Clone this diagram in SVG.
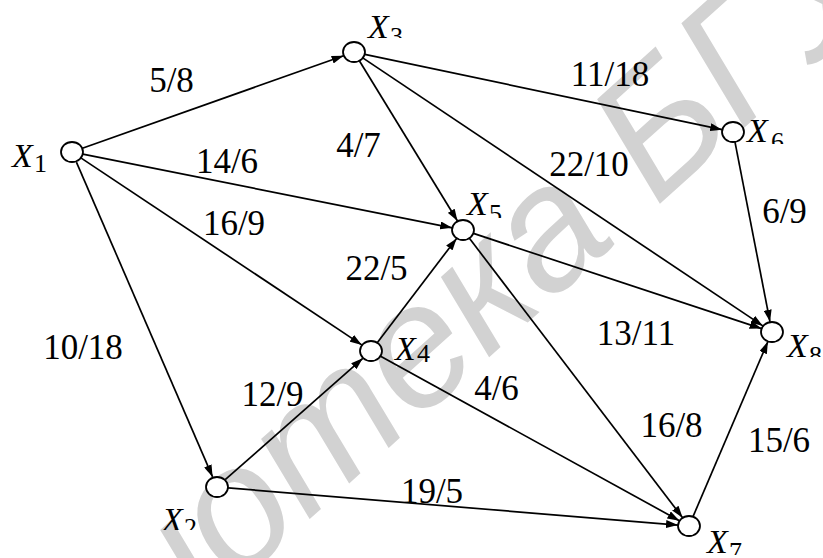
<svg xmlns="http://www.w3.org/2000/svg" width="823" height="558" viewBox="0 0 823 558">
<style>
.wm{font-family:"Liberation Sans",Arial,sans-serif;font-style:italic;font-size:174px;fill:#d2d2d2}
.e{stroke:#000;stroke-width:1.7;fill:none;marker-end:url(#ah)}
.n{fill:#fff;stroke:#000;stroke-width:1.8}
.t{font-family:"Liberation Serif","Times New Roman",serif;fill:#000}
.num{font-size:35px;text-anchor:middle}
.lbl{font-size:34px;font-style:italic}
.sub{font-style:normal;font-size:26px}
</style>
<defs>
<marker id="ah" markerWidth="12" markerHeight="8" refX="12" refY="4" orient="auto" markerUnits="userSpaceOnUse">
<path d="M0,0 L12,4 L0,8 z" fill="#000"/>
</marker>
<clipPath id="c3"><rect x="340" y="0" width="100" height="38"/></clipPath>
<clipPath id="c6"><rect x="720" y="100" width="103" height="44"/></clipPath>
<clipPath id="c5"><rect x="440" y="170" width="100" height="48"/></clipPath>
<clipPath id="c2"><rect x="140" y="490" width="100" height="40"/></clipPath>
<clipPath id="c7"><rect x="690" y="510" width="100" height="45"/></clipPath>
<clipPath id="c8"><rect x="770" y="320" width="53" height="37"/></clipPath>
</defs>
<rect width="823" height="558" fill="#fff"/>
<text class="wm" transform="translate(272,553) rotate(-42)" x="-548" y="0">Библиотека БГУИР</text>
<g id="connectors">
<line class="e" x1="82.4" y1="148.3" x2="343.6" y2="55.7"/>
<line class="e" x1="82.8" y1="154.2" x2="452.2" y2="227.8"/>
<line class="e" x1="81.2" y1="158.1" x2="361.8" y2="344.9"/>
<line class="e" x1="76.4" y1="162.1" x2="212.6" y2="476.9"/>
<line class="e" x1="364.8" y1="54.3" x2="722.2" y2="129.7"/>
<line class="e" x1="359.5" y1="61.0" x2="457.5" y2="221.0"/>
<line class="e" x1="363.1" y1="58.1" x2="762.9" y2="325.9"/>
<line class="e" x1="377.4" y1="342.6" x2="456.6" y2="238.4"/>
<line class="e" x1="225.2" y1="479.7" x2="362.8" y2="358.3"/>
<line class="e" x1="228" y1="487.9" x2="678" y2="525.1"/>
<line class="e" x1="380.6" y1="356.3" x2="679.4" y2="520.7"/>
<line class="e" x1="469.4" y1="238.3" x2="682.6" y2="517.7"/>
<line class="e" x1="473.4" y1="233.4" x2="761.6" y2="328.6"/>
<line class="e" x1="735" y1="142.2" x2="770" y2="321.8"/>
<line class="e" x1="693.1" y1="516.4" x2="767.9" y2="341.6"/>
</g>
<g id="edge-labels" class="t">
<text class="num" x="171.5" y="92">5/8</text>
<text class="num" x="227" y="173">14/6</text>
<text class="num" x="234" y="235">16/9</text>
<text class="num" x="358.5" y="157">4/7</text>
<text class="num" x="376.5" y="280">22/5</text>
<text class="num" x="610" y="86">11/18</text>
<text class="num" x="589" y="176">22/10</text>
<text class="num" x="784.5" y="223">6/9</text>
<text class="num" x="83" y="359">10/18</text>
<text class="num" x="272.5" y="406">12/9</text>
<text class="num" x="432" y="503">19/5</text>
<text class="num" x="636" y="345">13/11</text>
<text class="num" x="496.5" y="400">4/6</text>
<text class="num" x="671.5" y="437">16/8</text>
<text class="num" x="779" y="452">15/6</text>
</g>
<g id="nodes" class="t">
<g id="X1"><ellipse class="n" cx="72" cy="152" rx="11" ry="10"/><text class="lbl"><tspan x="12" y="167">X</tspan><tspan class="sub" x="34" y="172">1</tspan></text></g>
<g id="X2"><ellipse class="n" cx="217" cy="487" rx="11" ry="10"/><text class="lbl" clip-path="url(#c2)"><tspan x="162" y="531">X</tspan><tspan class="sub" x="184" y="536">2</tspan></text></g>
<g id="X3"><ellipse class="n" cx="354" cy="52" rx="11" ry="10"/><text class="lbl" clip-path="url(#c3)"><tspan x="368" y="38">X</tspan><tspan class="sub" x="390" y="45">3</tspan></text></g>
<g id="X4"><ellipse class="n" cx="371" cy="351" rx="11" ry="10"/><text class="lbl"><tspan x="395" y="360">X</tspan><tspan class="sub" x="417" y="362">4</tspan></text></g>
<g id="X5"><ellipse class="n" cx="463" cy="230" rx="11" ry="10"/><text class="lbl" clip-path="url(#c5)"><tspan x="467" y="215">X</tspan><tspan class="sub" x="489" y="222">5</tspan></text></g>
<g id="X6"><ellipse class="n" cx="733" cy="132" rx="11" ry="10"/><text class="lbl" clip-path="url(#c6)"><tspan x="747" y="142">X</tspan><tspan class="sub" x="771" y="150">6</tspan></text></g>
<g id="X7"><ellipse class="n" cx="689" cy="526" rx="11" ry="10"/><text class="lbl" clip-path="url(#c7)"><tspan x="707" y="553">X</tspan><tspan class="sub" x="729" y="560">7</tspan></text></g>
<g id="X8"><ellipse class="n" cx="772" cy="332" rx="11" ry="10"/><text class="lbl" clip-path="url(#c8)"><tspan x="787" y="357">X</tspan><tspan class="sub" x="809" y="364">8</tspan></text></g>
</g>
</svg>
